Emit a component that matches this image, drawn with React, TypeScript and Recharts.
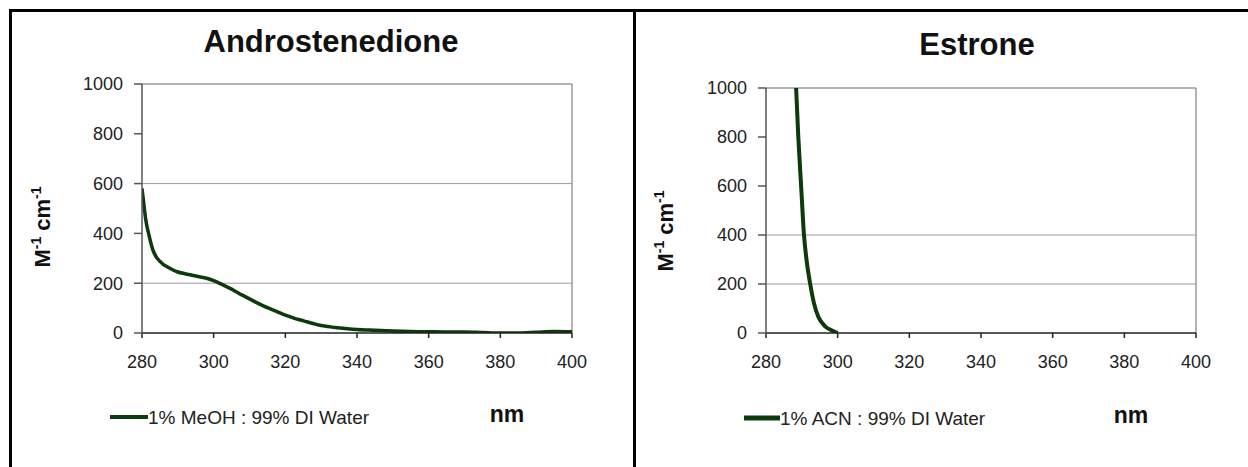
import { LineChart, Line, XAxis, YAxis, ReferenceLine } from "recharts";

// Androstenedione, 1% MeOH : 99% DI Water
const androNm = [
  280, 280.5, 281, 282, 283, 284, 285, 286, 287, 288, 290, 292, 294, 296, 298, 300, 302, 304, 306,
  308, 310, 312, 314, 316, 318, 320, 322, 324, 326, 328, 330, 332, 334, 336, 338, 340, 345, 350,
  355, 360, 365, 370, 375, 380, 385, 390, 395, 400,
];
const androAbs = [
  580, 520, 460, 390, 335, 305, 288, 275, 266, 258, 245, 238, 232, 226, 220, 210, 197, 183, 168,
  152, 137, 122, 108, 96, 84, 72, 62, 53, 45, 37, 30, 26, 22, 19, 16, 14, 11, 8,
  6, 5, 4, 4, 2, 0, 0, 3, 6, 5,
];

// Estrone, 1% ACN : 99% DI Water
const estroneNm = [288.4, 289, 289.8, 290.6, 291.3, 292.3, 293.4, 294.6, 296.5, 298.3, 300];
const estroneAbs = [1000, 805, 600, 400, 300, 203, 121, 66, 27, 11, 0];

const xTicks = [280, 300, 320, 340, 360, 380, 400];
const yTicks = [0, 200, 400, 600, 800, 1000];

const FONT = '"Liberation Sans", Arial, sans-serif';
const GREEN = "#0b3a0b";

const toRows = (nm: number[], v: number[]) => nm.map((x, i) => ({ nm: x, abs: v[i] }));

type PanelProps = {
  left: number;
  title: string;
  titleX: number;
  titleY: number;
  legend: string;
  legendLine: [number, number];
  legendY: number;
  legendWidth: number;
  labelX: number;
  labelY: number;
  top: number;
  grid: number[];
  rows: { nm: number; abs: number }[];
  strokeWidth: number;
};

function Panel(p: PanelProps) {
  return (
    <div style={{ position: "absolute", left: p.left, top: 0, width: 624, height: 467 }}>
      <LineChart
        width={624}
        height={467}
        data={p.rows}
        margin={{ top: p.top, right: 52, bottom: 104, left: 0 }}
      >
        {p.grid.map((g) => (
          <ReferenceLine key={g} y={g} stroke="#9a9a9a" strokeWidth={1} />
        ))}
        <ReferenceLine y={1000} stroke="#9a9a9a" strokeWidth={1.5} />
        <ReferenceLine x={400} stroke="#9a9a9a" strokeWidth={1.5} />
        <XAxis
          dataKey="nm"
          type="number"
          domain={[280, 400]}
          ticks={xTicks}
          allowDataOverflow
          height={30}
          stroke="#222"
          strokeWidth={1.5}
          tickSize={5}
          tickMargin={17}
          tick={{ fontSize: 18, fill: "#222", fontFamily: FONT }}
        />
        <YAxis
          type="number"
          domain={[0, 1000]}
          ticks={yTicks}
          allowDataOverflow
          width={142}
          stroke="#555"
          strokeWidth={1.5}
          tickSize={8}
          tickMargin={11}
          tick={{ fontSize: 18, fill: "#222", fontFamily: FONT }}
        />
        <Line
          dataKey="abs"
          type="monotone"
          stroke={GREEN}
          strokeWidth={p.strokeWidth}
          dot={false}
          isAnimationActive={false}
        />
      </LineChart>
      <svg
        width={624}
        height={467}
        style={{ position: "absolute", left: 0, top: 0, pointerEvents: "none" }}
        fontFamily={FONT}
      >
        <text x={p.titleX} y={p.titleY} textAnchor="middle" fontSize={31} fontWeight="bold" fill="#111">
          {p.title}
        </text>
        <text
          x={p.labelX}
          y={p.labelY}
          textAnchor="middle"
          fontSize={22}
          fontWeight="bold"
          fill="#111"
          transform={`rotate(-90 ${p.labelX} ${p.labelY})`}
        >
          M<tspan fontSize={14} dy={-9}>-1</tspan>
          <tspan dy={9}> cm</tspan>
          <tspan fontSize={14} dy={-9}>-1</tspan>
        </text>
        <line
          x1={p.legendLine[0]}
          x2={p.legendLine[1]}
          y1={p.legendY}
          y2={p.legendY}
          stroke={GREEN}
          strokeWidth={p.legendWidth}
        />
        <text x={p.legendLine[1]} y={p.legendY} dy="0.35em" fontSize={19} fill="#222">
          {p.legend}
        </text>
        <text x={507} y={p.legendY + 5} textAnchor="middle" fontSize={23} fontWeight="bold" fill="#111">
          nm
        </text>
      </svg>
    </div>
  );
}

export default function App() {
  return (
    <div
      style={{
        position: "absolute",
        left: 0,
        top: 0,
        width: 1248,
        height: 467,
        background: "#fff",
        overflow: "hidden",
      }}
    >
      <Panel
        left={0}
        title="Androstenedione"
        titleX={331}
        titleY={52}
        legend="1% MeOH : 99% DI Water"
        legendLine={[110, 148]}
        legendY={417}
        legendWidth={4}
        labelX={50}
        labelY={227}
        top={84}
        grid={[200, 600]}
        rows={toRows(androNm, androAbs)}
        strokeWidth={3.5}
      />
      <Panel
        left={624}
        title="Estrone"
        titleX={353}
        titleY={55}
        legend="1% ACN : 99% DI Water"
        legendLine={[120, 156]}
        legendY={418}
        legendWidth={5}
        labelX={49}
        labelY={231}
        top={88}
        grid={[200, 400]}
        rows={toRows(estroneNm, estroneAbs)}
        strokeWidth={4}
      />
      <div style={{ position: "absolute", left: 9, top: 9, width: 1239, height: 3, background: "#000" }} />
      <div style={{ position: "absolute", left: 9, top: 9, width: 3, height: 458, background: "#000" }} />
      <div style={{ position: "absolute", left: 633, top: 9, width: 3, height: 458, background: "#000" }} />
    </div>
  );
}
